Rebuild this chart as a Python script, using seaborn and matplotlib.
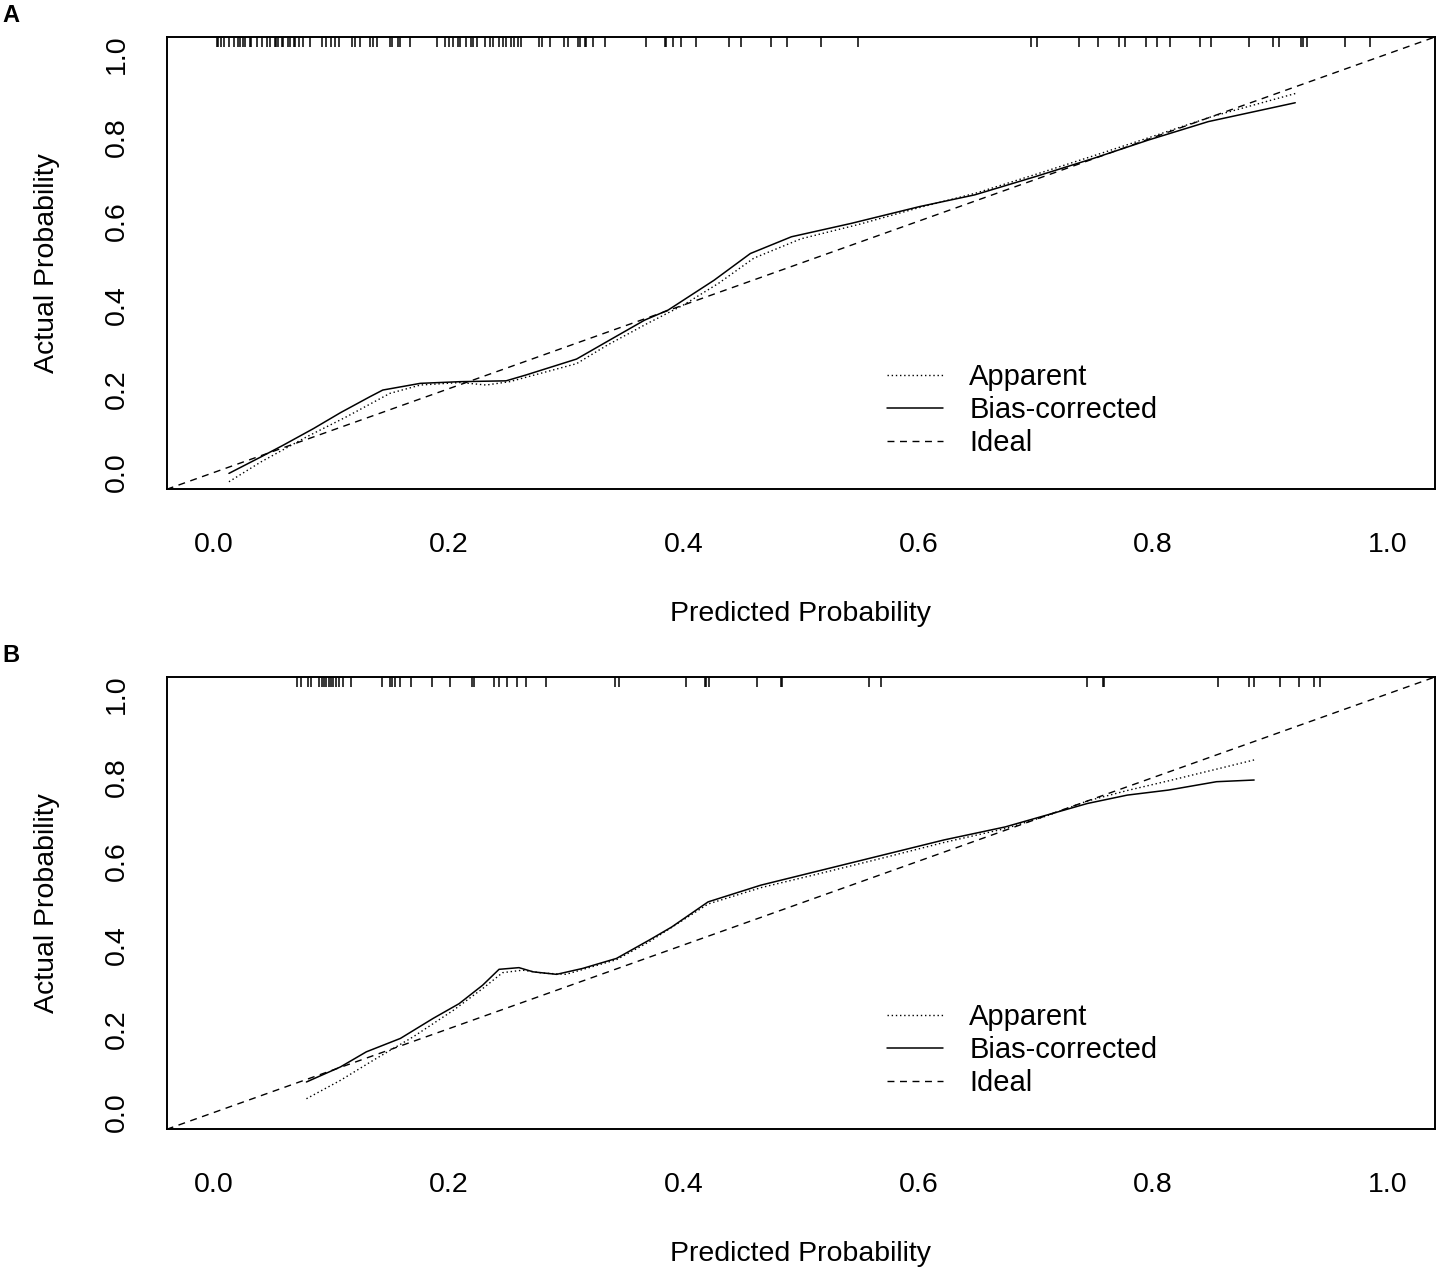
import numpy as np
import pandas as pd
import matplotlib
matplotlib.use("Agg")
import matplotlib.pyplot as plt
import seaborn as sns

# ---------------- data ----------------
# Panel A
a_bc_pred = [0.013, 0.040, 0.059, 0.085, 0.108, 0.133, 0.144, 0.176, 0.210, 0.249, 0.266, 0.309, 0.337,
             0.367, 0.387, 0.426, 0.457, 0.492, 0.543, 0.601, 0.648, 0.699, 0.749, 0.796, 0.847, 0.921]
a_bc_obs = [-0.002, 0.037, 0.065, 0.105, 0.143, 0.181, 0.197, 0.213, 0.217, 0.219, 0.233, 0.271, 0.316,
            0.364, 0.388, 0.459, 0.523, 0.563, 0.595, 0.635, 0.663, 0.706, 0.750, 0.794, 0.838, 0.883]
a_app_pred = [0.013, 0.040, 0.079, 0.113, 0.150, 0.176, 0.210, 0.232, 0.252, 0.309, 0.335, 0.370, 0.400,
              0.430, 0.460, 0.500, 0.550, 0.600, 0.650, 0.700, 0.750, 0.800, 0.850, 0.921]
a_app_obs = [-0.022, 0.025, 0.085, 0.133, 0.189, 0.209, 0.215, 0.209, 0.217, 0.260, 0.304, 0.357, 0.400,
             0.452, 0.512, 0.558, 0.593, 0.632, 0.668, 0.712, 0.757, 0.803, 0.850, 0.905]
a_rug = [0.003, 0.004, 0.006, 0.009, 0.013, 0.017, 0.021, 0.022, 0.025, 0.027, 0.031, 0.032, 0.037, 0.041,
         0.045, 0.048, 0.052, 0.053, 0.055, 0.058, 0.059, 0.063, 0.065, 0.068, 0.069, 0.073, 0.076, 0.082,
         0.092, 0.096, 0.100, 0.103, 0.107, 0.118, 0.120, 0.125, 0.133, 0.136, 0.139, 0.150, 0.152, 0.157,
         0.159, 0.167, 0.190, 0.197, 0.200, 0.204, 0.208, 0.210, 0.215, 0.219, 0.221, 0.224, 0.231, 0.235,
         0.238, 0.243, 0.246, 0.249, 0.253, 0.256, 0.259, 0.262, 0.277, 0.280, 0.286, 0.298, 0.302, 0.310,
         0.312, 0.316, 0.317, 0.323, 0.333, 0.368, 0.384, 0.385, 0.391, 0.398, 0.411, 0.439, 0.449, 0.475,
         0.488, 0.517, 0.549, 0.696, 0.701, 0.737, 0.753, 0.771, 0.776, 0.794, 0.803, 0.814, 0.840, 0.849,
         0.882, 0.902, 0.907, 0.926, 0.928, 0.931, 0.963, 0.985]

# Panel B
b_bc_pred = [0.079, 0.108, 0.130, 0.159, 0.187, 0.209, 0.229, 0.243, 0.260, 0.272, 0.292, 0.314, 0.343,
             0.371, 0.390, 0.421, 0.466, 0.518, 0.570, 0.622, 0.674, 0.709, 0.744, 0.778, 0.813, 0.854, 0.886]
b_bc_obs = [0.073, 0.109, 0.145, 0.177, 0.225, 0.260, 0.304, 0.342, 0.346, 0.336, 0.330, 0.344, 0.368,
            0.412, 0.443, 0.503, 0.543, 0.579, 0.615, 0.651, 0.682, 0.710, 0.738, 0.758, 0.770, 0.790, 0.794]
b_app_pred = [0.079, 0.108, 0.136, 0.170, 0.204, 0.229, 0.246, 0.263, 0.280, 0.300, 0.343, 0.371, 0.421,
              0.466, 0.518, 0.570, 0.622, 0.674, 0.709, 0.744, 0.778, 0.813, 0.854, 0.886]
b_app_obs = [0.033, 0.077, 0.125, 0.181, 0.244, 0.296, 0.334, 0.340, 0.333, 0.330, 0.365, 0.408, 0.498,
             0.537, 0.572, 0.608, 0.645, 0.678, 0.708, 0.744, 0.769, 0.792, 0.820, 0.842]
b_rug = [0.071, 0.074, 0.080, 0.083, 0.090, 0.092, 0.094, 0.096, 0.098, 0.100, 0.102, 0.104, 0.107, 0.110,
         0.117, 0.143, 0.150, 0.152, 0.154, 0.159, 0.168, 0.186, 0.201, 0.220, 0.222, 0.239, 0.243, 0.250,
         0.258, 0.266, 0.283, 0.342, 0.345, 0.402, 0.418, 0.419, 0.422, 0.463, 0.483, 0.484, 0.558, 0.568,
         0.744, 0.757, 0.758, 0.855, 0.882, 0.886, 0.908, 0.924, 0.937, 0.942]

ideal = [-0.04, 1.04]
ticks = [0.0, 0.2, 0.4, 0.6, 0.8, 1.0]
tick_labels = ["0.0", "0.2", "0.4", "0.6", "0.8", "1.0"]
legend_labels = ["Apparent", "Bias-corrected", "Ideal"]
panel_letters = ["A", "B"]

# ---------------- style ----------------
sns.set_theme(style="white")
plt.rcParams["font.family"] = ["Liberation Sans", "DejaVu Sans"]

W, H = 1445, 1272
fig = plt.figure(figsize=(W / 100, H / 100), dpi=100)

panels = [
    dict(top=37, bc=(a_bc_pred, a_bc_obs), app=(a_app_pred, a_app_obs), rug=a_rug),
    dict(top=677, bc=(b_bc_pred, b_bc_obs), app=(b_app_pred, b_app_obs), rug=b_rug),
]

left_px, right_px, height_px = 166.7, 1435, 452.3
FS = 20.5
LFS = 21

for i, p in enumerate(panels):
    top = p["top"]
    ax = fig.add_axes([left_px / W, 1 - (top + height_px) / H, (right_px - left_px) / W, height_px / H])

    df_app = pd.DataFrame({"pred": p["app"][0], "obs": p["app"][1]})
    df_bc = pd.DataFrame({"pred": p["bc"][0], "obs": p["bc"][1]})
    df_id = pd.DataFrame({"pred": ideal, "obs": ideal})

    sns.lineplot(data=df_app, x="pred", y="obs", ax=ax, color="black", lw=1.0,
                 linestyle=(0, (1, 2)), estimator=None, sort=False, label=legend_labels[0])
    sns.lineplot(data=df_bc, x="pred", y="obs", ax=ax, color="black", lw=1.1,
                 linestyle="-", estimator=None, sort=False, label=legend_labels[1])
    sns.lineplot(data=df_id, x="pred", y="obs", ax=ax, color="black", lw=1.0,
                 linestyle=(0, (5, 4)), estimator=None, sort=False, label=legend_labels[2])

    # rug at top of the plot region
    ax.vlines(p["rug"], 1.0, 0.978, transform=ax.get_xaxis_transform(), color="black", lw=1.1)

    ax.set_xlim(-0.04, 1.04)
    ax.set_ylim(-0.04, 1.04)
    ax.set_xticks(ticks)
    ax.set_xticklabels(tick_labels)
    ax.set_yticks(ticks)
    ax.set_yticklabels(tick_labels, rotation=90, va="center")
    ax.tick_params(axis="both", direction="out", length=12.5, width=1.0, color="#444444",
                   labelsize=FS, labelcolor="black")
    ax.tick_params(axis="x", pad=18.5)
    ax.tick_params(axis="y", pad=14)
    for s in ax.spines.values():
        s.set_color("black")
        s.set_linewidth(1.4)

    ax.set_xlabel("Predicted Probability", fontsize=FS, color="black", va="center")
    ax.xaxis.set_label_coords(0.5, -0.275)
    ax.set_ylabel("Actual Probability", fontsize=FS, color="black", va="center")
    ax.yaxis.set_label_coords(-0.094, 0.5)

    leg = ax.legend(loc="upper left", bbox_to_anchor=(0.568, 0.279), frameon=False,
                    fontsize=LFS, handlelength=1.9, handletextpad=0.92, labelspacing=0.17,
                    borderpad=0, borderaxespad=0)
    for t in leg.get_texts():
        t.set_color("black")

    fig.text(2 / W, 1 - (top - 22) / H, panel_letters[i], fontsize=17, fontweight="bold",
             ha="left", va="center", color="black")

fig.savefig("out.png", dpi=100)
